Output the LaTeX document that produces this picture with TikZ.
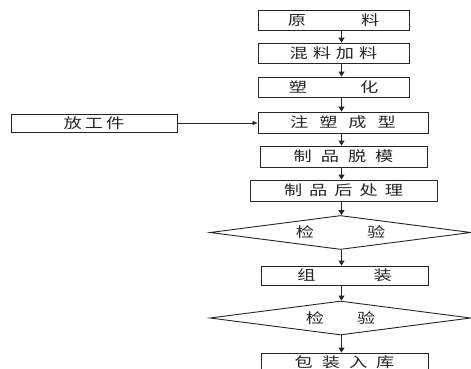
\documentclass[tikz,border=0pt]{standalone}
\usepackage{fontspec}
\newfontfamily\cjk[FakeStretch=1.3]{Noto Sans CJK SC}
\usetikzlibrary{arrows.meta,shapes.geometric}
\newcommand\gp[1]{\hspace{#1pt}}
\tikzset{
  box/.style={draw=black!85, line width=0.9pt, rectangle, inner sep=0pt, font=\cjk\fontsize{14}{14}\selectfont, text=black!85},
  dia/.style={draw=black!85, line width=0.9pt, diamond, aspect=8, inner sep=0pt, minimum width=261pt, minimum height=34pt, font=\cjk\fontsize{14}{14}\selectfont, text=black!85},
  flow/.style={draw=black!85, line width=1pt, -{Triangle[length=5pt,width=6pt]}},
  side/.style={draw=black!85, line width=0.6pt, -{Triangle[length=5pt,width=4pt]}}
}
\begin{document}
\begin{tikzpicture}[x=1pt,y=-1pt]
\useasboundingbox (0,0) rectangle (471,369);
\fill[white] (0,0) rectangle (471,369);
\coordinate (col) at (341.5,0);
\node[box, minimum width=151pt, minimum height=20pt] (n1) at (333.5,20) {原\gp{55}料};
\node[box, minimum width=151pt, minimum height=20pt] (n2) at (333.5,53) {混\gp{5}料\gp{5}加\gp{5}料};
\node[box, minimum width=151pt, minimum height=20pt] (n3) at (333.5,87) {塑\gp{53}化};
\node[box, minimum width=170pt, minimum height=21pt] (n4) at (343,122.5) {注\gp{11}塑\gp{11}成\gp{11}型};
\node[box, minimum width=166pt, minimum height=18pt] (w) at (94,123) {放\gp{3}工\gp{3}件};
\node[box, minimum width=167pt, minimum height=21pt] (n5) at (343.5,156.5) {制\gp{9}品\gp{9}脱\gp{9}模};
\node[box, minimum width=187pt, minimum height=21pt] (n6) at (343.5,190.5) {制\gp{7}品\gp{7}后\gp{7}处\gp{7}理};
\node[dia] (d1) at (340.5,232.5) {检\gp{53}验};
\node[box, minimum width=167pt, minimum height=19pt] (n7) at (344.5,275.5) {组\gp{58}装};
\node[dia] (d2) at (340.5,318) {检\gp{33}验};
\node[box, minimum width=167pt, minimum height=19pt] (n8) at (344.5,362.5) {包\gp{9}装\gp{9}入\gp{9}库};
\draw[flow] (n1.south -| col) -- (n2.north -| col);
\draw[flow] (n2.south -| col) -- (n3.north -| col);
\draw[flow] (n3.south -| col) -- (n4.north -| col);
\draw[flow] (n4.south -| col) -- (n5.north -| col);
\draw[flow] (n5.south -| col) -- (n6.north -| col);
\draw[flow] (n6.south -| col) -- (d1.north -| col);
\draw[flow] (d1.south -| col) -- (n7.north -| col);
\draw[flow] (n7.south -| col) -- (d2.north -| col);
\draw[flow] (d2.south -| col) -- (n8.north -| col);
\draw[side] (w.east) -- (w.east -| n4.west);
\end{tikzpicture}
\end{document}
